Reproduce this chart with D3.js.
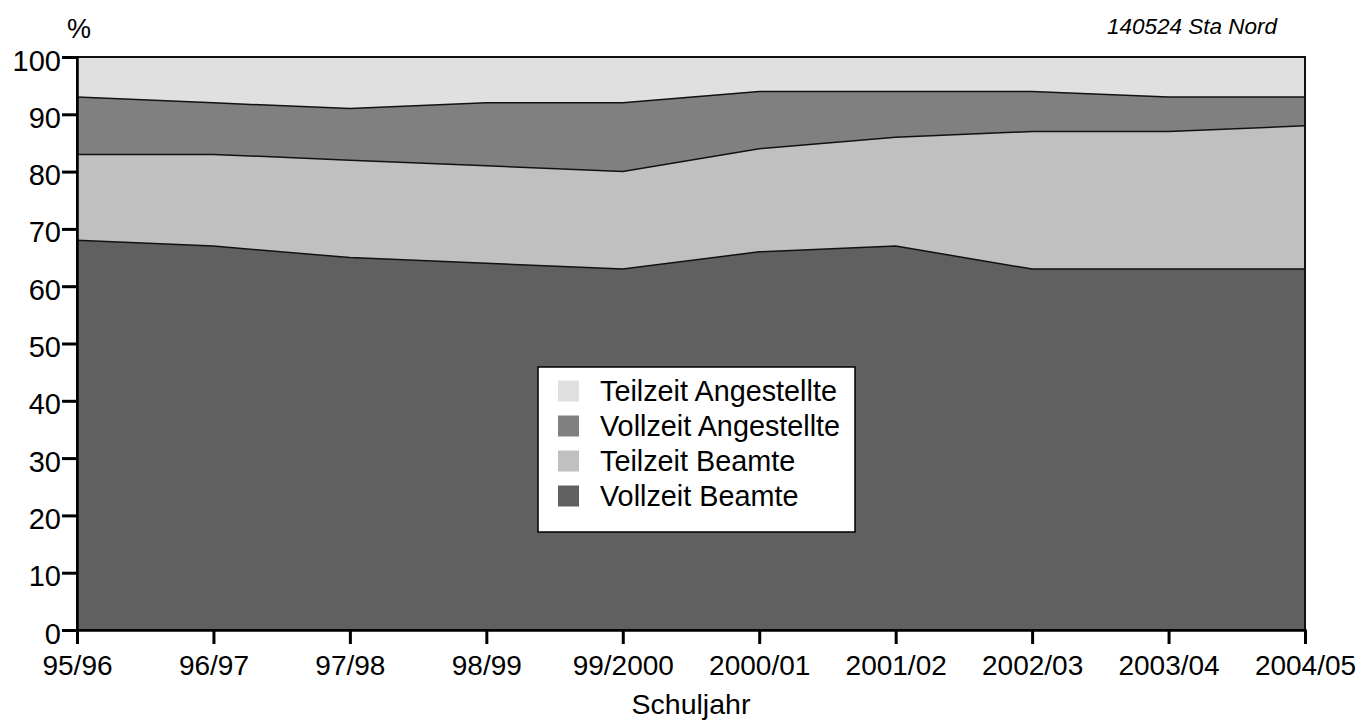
<!DOCTYPE html>
<html>
<head>
<meta charset="utf-8">
<script src="https://cdn.jsdelivr.net/npm/d3@7"></script>
<style>
    body { margin: 0; background: #fff; }
    svg { font-family: "Liberation Sans", Arial, sans-serif; }
</style>
</head>
<body>
<div id="chart"></div>
<script>
// Schuljahre
var years = ["95/96", "96/97", "97/98", "98/99", "99/2000", "2000/01", "2001/02", "2002/03", "2003/04", "2004/05"];

// Anteile in %
var vollzeitBeamte      = [68, 67, 65, 64, 63, 66, 67, 63, 63, 63];
var teilzeitBeamte      = [15, 16, 17, 17, 17, 18, 19, 24, 24, 25];
var vollzeitAngestellte = [10,  9,  9, 11, 12, 10,  8,  7,  6,  5];
var teilzeitAngestellte = [ 7,  8,  9,  8,  8,  6,  6,  6,  7,  7];

var seriesNames = ["Vollzeit Beamte", "Teilzeit Beamte", "Vollzeit Angestellte", "Teilzeit Angestellte"];
var seriesColors = ["#606060", "#c0c0c0", "#808080", "#e0e0e0"];
var yTicks = [0, 10, 20, 30, 40, 50, 60, 70, 80, 90, 100];

var W = 1362, H = 720;
var margin = {top: 57, right: 57, bottom: 90, left: 77};
var width = W - margin.left - margin.right;
var height = H - margin.top - margin.bottom;

var svgRoot = d3.select("#chart").append("svg")
    .attr("width", W)
    .attr("height", H);
var svg = svgRoot.append("g")
    .attr("transform", "translate(" + margin.left + "," + margin.top + ")");

// build table for d3.stack
var table = years.map(function(y, i) {
    return {
        year: y,
        "Vollzeit Beamte": vollzeitBeamte[i],
        "Teilzeit Beamte": teilzeitBeamte[i],
        "Vollzeit Angestellte": vollzeitAngestellte[i],
        "Teilzeit Angestellte": teilzeitAngestellte[i]
    };
});
var stacked = d3.stack().keys(seriesNames)(table);

var x = d3.scalePoint()
    .domain(years)
    .range([0, width]);
var y = d3.scaleLinear()
    .domain([0, 100])
    .range([height, 0]);

var area = d3.area()
    .x(function(d) { return x(d.data.year); })
    .y0(function(d) { return y(d[0]); })
    .y1(function(d) { return y(d[1]); });

svg.selectAll(".layer")
    .data(stacked)
    .enter().append("path")
    .attr("class", "layer")
    .attr("fill", function(d, i) { return seriesColors[i]; })
    .attr("d", area);

// boundary lines
var line = d3.line()
    .x(function(d) { return x(d.data.year); })
    .y(function(d) { return y(d[1]); });
svg.selectAll(".edge")
    .data(stacked.slice(0, 3))
    .enter().append("path")
    .attr("class", "edge")
    .attr("fill", "none")
    .attr("stroke", "#111")
    .attr("stroke-width", 1.5)
    .attr("d", line);

// frame top + right
svg.append("rect")
    .attr("x", 0).attr("y", 0)
    .attr("width", width).attr("height", height)
    .attr("fill", "none")
    .attr("stroke", "#111")
    .attr("stroke-width", 2);

// Y axis
var yAxis = svg.append("g")
    .call(d3.axisLeft(y).tickValues(yTicks).tickSize(15).tickPadding(1));
// X axis
var xAxis = svg.append("g")
    .attr("transform", "translate(0," + height + ")")
    .call(d3.axisBottom(x).tickSize(14).tickPadding(11));

[yAxis, xAxis].forEach(function(a) {
    a.select(".domain").attr("stroke", "#000").attr("stroke-width", 2.5);
    a.selectAll(".tick line").attr("stroke", "#000").attr("stroke-width", 3);
    a.selectAll(".tick text")
        .attr("fill", "#000")
        .style("font-family", "'Liberation Sans', Arial, sans-serif")
        .style("font-size", "28px");
});
yAxis.selectAll(".tick text").attr("dy", "0.45em").style("font-size", "29px");
xAxis.selectAll(".tick text").attr("dy", "0.71em");

// axis titles
svgRoot.append("text")
    .attr("x", margin.left + width / 2)
    .attr("y", 714)
    .attr("text-anchor", "middle")
    .style("font-size", "28.5px")
    .text("Schuljahr");
svgRoot.append("text")
    .attr("x", 67)
    .attr("y", 38)
    .style("font-size", "27px")
    .text("%");
svgRoot.append("text")
    .attr("x", 1277)
    .attr("y", 34)
    .attr("text-anchor", "end")
    .style("font-size", "22.5px")
    .style("font-style", "italic")
    .text("140524 Sta Nord");

// legend
var legend = svgRoot.append("g")
    .attr("transform", "translate(538,367)");
legend.append("rect")
    .attr("width", 317).attr("height", 165)
    .attr("fill", "#fff")
    .attr("stroke", "#000")
    .attr("stroke-width", 1.5);
var legendOrder = seriesNames.slice().reverse();
var items = legend.selectAll(".item")
    .data(legendOrder)
    .enter().append("g")
    .attr("class", "item")
    .attr("transform", function(d, i) { return "translate(0," + (24 + i * 35) + ")"; });
items.append("rect")
    .attr("x", 20).attr("y", -10.5)
    .attr("width", 21).attr("height", 21)
    .attr("fill", function(d) { return seriesColors[seriesNames.indexOf(d)]; });
items.append("text")
    .attr("x", 62)
    .attr("dy", "0.36em")
    .style("font-size", "28.8px")
    .text(function(d) { return d; });
</script>
</body>
</html>
